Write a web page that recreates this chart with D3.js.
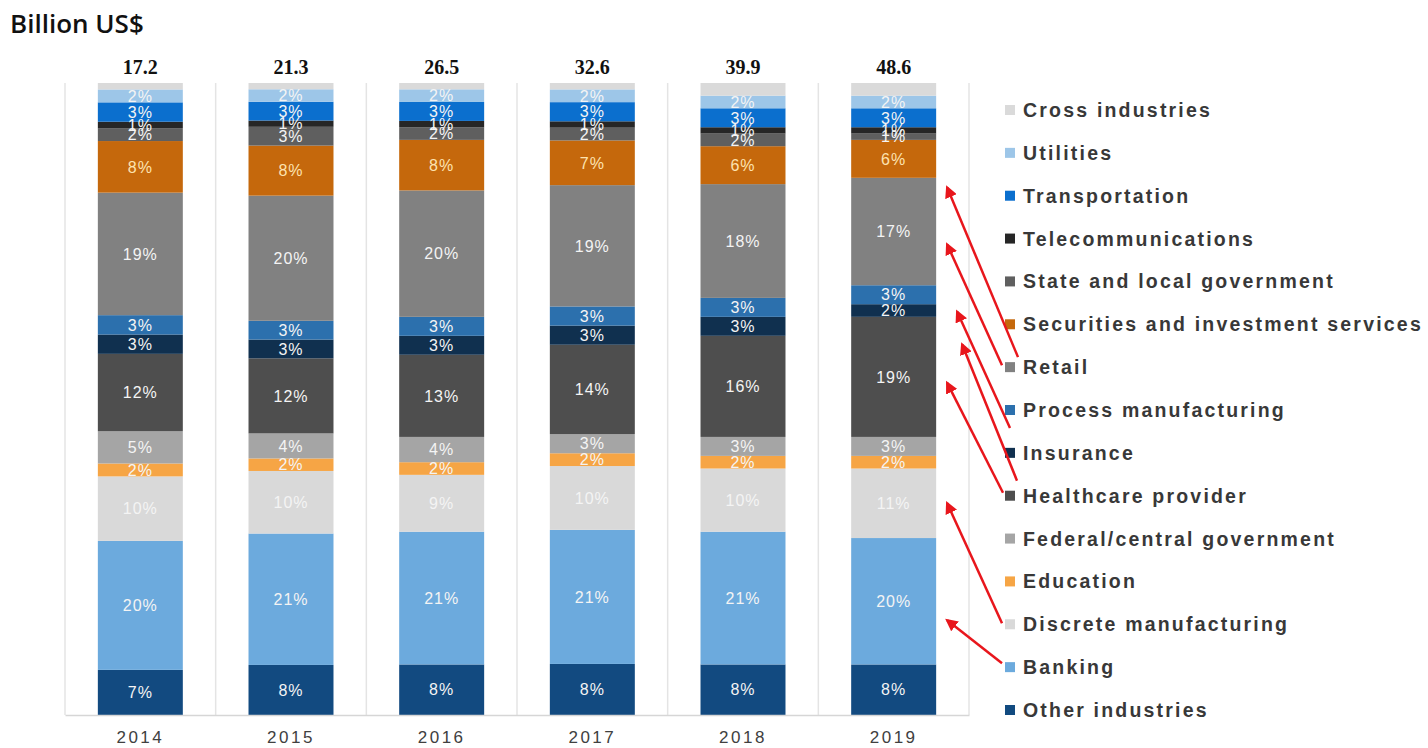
<!DOCTYPE html>
<html>
<head>
<meta charset="utf-8">
<script src="https://cdn.jsdelivr.net/npm/d3@7/dist/d3.min.js"></script>
<style>
    body { margin: 0; background: #fff; }
    svg { display: block; }
</style>
</head>
<body>
<div id="chart"></div>
<script>

// data (industries bottom -> top)
var years = ["2014", "2015", "2016", "2017", "2018", "2019"];
var totals = [17.2, 21.3, 26.5, 32.6, 39.9, 48.6];

var industries = ["Other industries", "Banking", "Discrete manufacturing", "Education",
    "Federal/central government", "Healthcare provider", "Insurance", "Process manufacturing",
    "Retail", "Securities and investment services", "State and local government",
    "Telecommunications", "Transportation", "Utilities", "Cross industries"];

var colors = ["#124a80", "#6caadd", "#d9d9d9", "#f6a545", "#a5a5a5", "#4e4e4e", "#10304f",
    "#2c70ad", "#818181", "#c5680c", "#5f5f5f", "#262626", "#0b6fce", "#9dc6e8", "#dadada"];

// shares in %, same order as industries
var share2014 = [7, 20, 10, 2, 5, 12, 3, 3, 19, 8, 2, 1, 3, 2, 1];
var share2015 = [8, 21, 10, 2, 4, 12, 3, 3, 20, 8, 3, 1, 3, 2, 1];
var share2016 = [8, 21, 9, 2, 4, 13, 3, 3, 20, 8, 2, 1, 3, 2, 1];
var share2017 = [8, 21, 10, 2, 3, 14, 3, 3, 19, 7, 2, 1, 3, 2, 1];
var share2018 = [8, 21, 10, 2, 3, 16, 3, 3, 18, 6, 2, 1, 3, 2, 2];
var share2019 = [8, 20, 11, 2, 3, 19, 2, 3, 17, 6, 1, 1, 3, 2, 2];
var shares = [share2014, share2015, share2016, share2017, share2018, share2019];

// red annotation arrows: legend item -> 2019 segment
var arrows = [
    { from: "Retail", to: "Retail", at: 0.09, hx: 11, tx: 13, ty: -10 },
    { from: "Retail", to: "Retail", at: 0.62, hx: 11, tx: -3, ty: -2 },
    { from: "Process manufacturing", to: "Insurance", at: 0.6, hx: 21, tx: 5, ty: 18 },
    { from: "Healthcare provider", to: "Healthcare provider", at: 0.23, hx: 26, tx: 12, ty: -15 },
    { from: "Healthcare provider", to: "Healthcare provider", at: 0.55, hx: 11, tx: -2, ty: -3 },
    { from: "Discrete manufacturing", to: "Discrete manufacturing", at: 0.5, hx: 11, tx: -3, ty: -1 },
    { from: "Banking", to: "Banking", at: 0.65, hx: 11, tx: -3, ty: -4 }
];

var rows = years.map(function(yr, i) {
    var row = { year: yr };
    industries.forEach(function(k, j) { row[k] = shares[i][j]; });
    return row;
});

drawChart(rows);

function drawChart(rows) {
    var width = 1428, height = 748;

    var svg = d3.select("#chart").append("svg")
        .attr("width", width)
        .attr("height", height);

    var xScale = d3.scaleBand()
        .domain(years)
        .range([65, 969])
        .paddingInner(0.436)
        .paddingOuter(0.218);

    var yScale = d3.scaleLinear()
        .domain([0, 1])
        .range([715, 83]);

    var color = d3.scaleOrdinal().domain(industries).range(colors);

    var series = d3.stack()
        .keys(industries)
        .offset(d3.stackOffsetExpand)(rows);

    // light separators between the years
    var bounds = years.map(function(d) { return xScale(d) - xScale.step() * xScale.paddingInner() / 2; });
    bounds.push(969);
    svg.append("g").selectAll("line")
        .data(bounds)
        .join("line")
        .attr("x1", function(d) { return d; })
        .attr("x2", function(d) { return d; })
        .attr("y1", yScale(1))
        .attr("y2", yScale(0))
        .style("stroke", "#e4e4e4")
        .style("stroke-width", 1.5);

    // bars
    svg.append("g").selectAll("g")
        .data(series)
        .join("g")
        .attr("fill", function(d) { return color(d.key); })
        .selectAll("rect")
        .data(function(d) { return d; })
        .join("rect")
        .attr("x", function(d) { return xScale(d.data.year); })
        .attr("y", function(d) { return yScale(d[1]); })
        .attr("height", function(d) { return yScale(d[0]) - yScale(d[1]); })
        .attr("width", xScale.bandwidth());

    // % labels inside the segments
    series.forEach(function(s) {
        if (s.key === "Cross industries") return;
        svg.append("g").selectAll("text")
            .data(s)
            .join("text")
            .attr("x", function(d) { return xScale(d.data.year) + xScale.bandwidth() / 2; })
            .attr("y", function(d) { return (yScale(d[0]) + yScale(d[1])) / 2; })
            .attr("dy", "0.36em")
            .attr("text-anchor", "middle")
            .style("font-family", "'Liberation Sans', Arial, sans-serif")
            .style("font-size", "16px")
            .style("letter-spacing", "1px")
            .style("fill", s.key === "Securities and investment services" ? "#fde3b0" : "#f4f4f4")
            .text(function(d) { return d.data[s.key] + "%"; });
    });

    // totals above the bars
    svg.append("g").selectAll("text")
        .data(totals)
        .join("text")
        .attr("x", function(d, i) { return xScale(years[i]) + xScale.bandwidth() / 2; })
        .attr("y", 74)
        .attr("text-anchor", "middle")
        .style("font-family", "'Liberation Serif', 'Times New Roman', serif")
        .style("font-weight", "bold")
        .style("font-size", "20px")
        .style("fill", "#111")
        .text(function(d) { return d.toFixed(1); });

    // x axis
    var xAxis = svg.append("g")
        .attr("class", "x axis")
        .attr("transform", "translate(0," + yScale(0) + ")")
        .call(d3.axisBottom(xScale).tickSize(0).tickSizeOuter(0).tickPadding(16));
    xAxis.select(".domain").style("stroke", "#d6d6d6").style("stroke-width", 1.5);
    xAxis.selectAll("text")
        .style("font-family", "'Liberation Sans', Arial, sans-serif")
        .style("font-size", "17px")
        .style("letter-spacing", "2.5px")
        .style("fill", "#404040");

    // title
    svg.append("text")
        .attr("x", 10)
        .attr("y", 33)
        .style("font-family", "'Open Sans', sans-serif")
        .style("font-weight", 600)
        .style("font-size", "26px")
        .style("fill", "#111")
        .text("Billion US$");

    // legend (top -> bottom)
    var legendY = d3.scalePoint()
        .domain(industries.slice().reverse())
        .range([110, 710]);

    var legend = svg.append("g").selectAll("g")
        .data(industries.slice().reverse())
        .join("g")
        .attr("transform", function(d) { return "translate(1005," + legendY(d) + ")"; });

    legend.append("rect")
        .attr("x", 0)
        .attr("y", -5)
        .attr("width", 10)
        .attr("height", 10)
        .style("fill", function(d) { return color(d); });

    legend.append("text")
        .attr("x", 18)
        .attr("dy", "0.36em")
        .style("font-family", "'Liberation Sans', Arial, sans-serif")
        .style("font-weight", "bold")
        .style("font-size", "19.5px")
        .style("letter-spacing", "2.2px")
        .style("fill", "#383838")
        .text(function(d) { return d; });

    // arrows
    svg.append("defs").append("marker")
        .attr("id", "arrowhead")
        .attr("viewBox", "0 0 10 10")
        .attr("refX", 8)
        .attr("refY", 5)
        .attr("markerWidth", 5)
        .attr("markerHeight", 5)
        .attr("orient", "auto")
        .append("path")
        .attr("d", "M0,0 L10,5 L0,10 z")
        .style("fill", "#e8161c");

    var last = years[years.length - 1];
    var barRight = xScale(last) + xScale.bandwidth();

    svg.append("g").selectAll("line")
        .data(arrows)
        .join("line")
        .attr("x1", function(d) { return 1005 + d.tx; })
        .attr("y1", function(d) { return legendY(d.from) + d.ty; })
        .attr("x2", function(d) { return barRight + d.hx; })
        .attr("y2", function(d) {
            var seg = series[industries.indexOf(d.to)][years.length - 1];
            return yScale(seg[1]) + d.at * (yScale(seg[0]) - yScale(seg[1]));
        })
        .attr("marker-end", "url(#arrowhead)")
        .style("stroke", "#e8161c")
        .style("stroke-width", 2.5);
}
</script>
</body>
</html>
